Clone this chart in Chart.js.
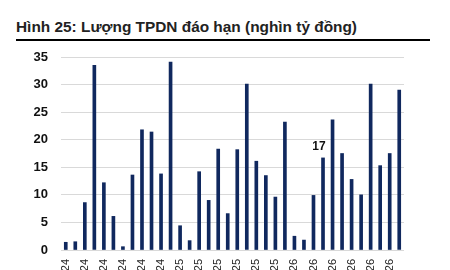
<!DOCTYPE html>
<html>
<head>
<meta charset="utf-8">
<script src="https://cdn.jsdelivr.net/npm/chart.js@4/dist/chart.umd.min.js"></script>
<style>
  html, body { margin: 0; padding: 0; width: 450px; height: 270px; overflow: hidden; background: #fff; }
  #title { position: absolute; left: 16px; top: 18px; font: bold 15.4px "Liberation Sans", Arial, sans-serif; line-height: 18px; color: #222; white-space: nowrap; }
  #rule { position: absolute; left: 16px; top: 39px; width: 414px; height: 2px; background: #000; }
  #wrap { position: absolute; left: 0; top: 0; width: 450px; height: 300px; }
</style>
</head>
<body>
<div id="title">Hình 25: Lượng TPDN đáo hạn (nghìn tỷ đồng)</div>
<div id="rule"></div>
<div id="wrap"><canvas id="c" width="450" height="300"></canvas></div>
<script>
const months = ["T1/24","T2/24","T3/24","T4/24","T5/24","T6/24","T7/24","T8/24","T9/24","T10/24","T11/24","T12/24",
                "T1/25","T2/25","T3/25","T4/25","T5/25","T6/25","T7/25","T8/25","T9/25","T10/25","T11/25","T12/25",
                "T1/26","T2/26","T3/26","T4/26","T5/26","T6/26","T7/26","T8/26","T9/26","T10/26","T11/26","T12/26"];
const maturing = [1.4, 1.5, 8.6, 33.5, 12.2, 6.1, 0.6, 13.6, 21.8, 21.4, 13.8, 34.1,
                  4.4, 1.7, 14.2, 9.0, 18.3, 6.6, 18.2, 30.1, 16.1, 13.5, 9.6, 23.2,
                  2.5, 1.8, 9.9, 16.7, 23.6, 17.5, 12.8, 10.0, 30.1, 15.3, 17.5, 29.0];
const yTicks = [0, 5, 10, 15, 20, 25, 30, 35];
const labelledIndex = [27];

const valueLabel = {
  id: 'valueLabel',
  afterDatasetsDraw(chart) {
    const ctx = chart.ctx;
    const meta = chart.getDatasetMeta(0);
    ctx.save();
    ctx.font = 'bold 12px "Liberation Sans", Arial, sans-serif';
    ctx.fillStyle = '#111';
    ctx.textAlign = 'center';
    ctx.textBaseline = 'bottom';
    labelledIndex.forEach(i => {
      const el = meta.data[i];
      ctx.fillText(String(Math.round(maturing[i])), el.x - 4, el.y - 5);
    });
    ctx.restore();
  }
};

new Chart(document.getElementById('c'), {
  type: 'bar',
  data: {
    labels: months,
    datasets: [{
      data: maturing,
      backgroundColor: '#10285e',
      barThickness: 3,
      borderWidth: 0
    }]
  },
  options: {
    responsive: false,
    animation: false,
    devicePixelRatio: 1,
    layout: { padding: { top: 57, right: 46, left: 0, bottom: 0 } },
    plugins: { legend: { display: false }, tooltip: { enabled: false } },
    scales: {
      x: {
        grid: { display: false, drawTicks: false },
        border: { display: false },
        afterFit(s) { s.height = 50; },
        ticks: {
          autoSkip: false,
          maxRotation: 90,
          minRotation: 90,
          padding: 9,
          color: '#222',
          font: { family: '"Liberation Sans", Arial, sans-serif', size: 11 },
          callback: (v, i) => (i % 2 === 0 ? months[i] : '')
        }
      },
      y: {
        min: 0,
        max: 35,
        afterFit(s) { s.width = 61; },
        afterBuildTicks(s) { s.ticks = yTicks.map(v => ({ value: v })); },
        grid: { color: '#d9d9d9', lineWidth: 1, drawTicks: false },
        border: { display: false },
        ticks: {
          padding: 13,
          color: '#111',
          font: { family: '"Liberation Sans", Arial, sans-serif', size: 13, weight: 'bold' }
        }
      }
    }
  },
  plugins: [valueLabel]
});
</script>
</body>
</html>
